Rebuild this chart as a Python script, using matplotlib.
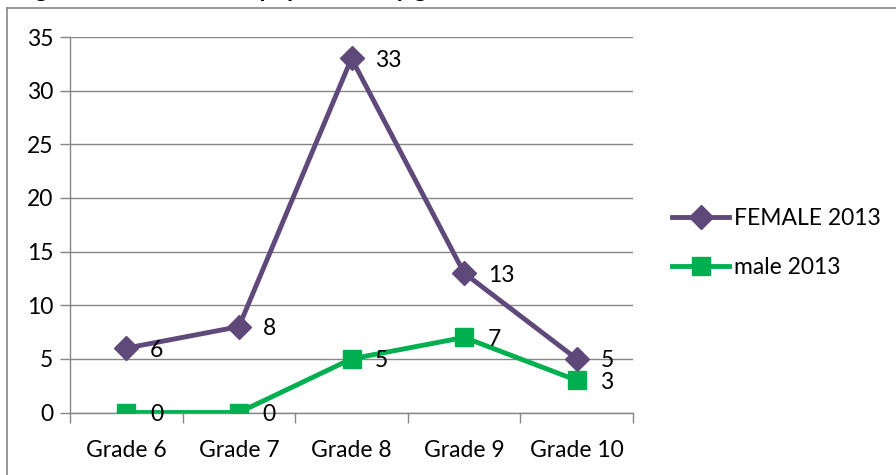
import matplotlib.pyplot as plt
from matplotlib.lines import Line2D
import numpy as np

grades = ["Grade 6", "Grade 7", "Grade 8", "Grade 9", "Grade 10"]
female_2013 = [6, 8, 33, 13, 5]
male_2013 = [0, 0, 5, 7, 3]
yticks = [0, 5, 10, 15, 20, 25, 30, 35]

purple = "#5F497A"
green = "#00B050"
gray = "#868686"

plt.rcParams["font.family"] = ["Lato", "DejaVu Sans"]

W, H = 896, 475
fig = plt.figure(figsize=(W / 100, H / 100), dpi=100)
ax = fig.add_axes([70 / W, (H - 412.5) / H, 563 / W, 375.5 / H])

x = np.arange(len(grades))
ax.plot(x, female_2013, color=purple, lw=3.5, marker="D", ms=12, zorder=3,
        label="FEMALE 2013")
ax.plot(x, male_2013, color=green, lw=3.5, marker="s", ms=12.5, zorder=3,
        label="male 2013")

# value labels to the right of each point
for xi, v in zip(x, female_2013):
    ax.annotate(str(v), (xi, v), xytext=(17, -1.5), textcoords="offset points",
                ha="left", va="center", fontsize=16.5, color="black")
for xi, v in zip(x, male_2013):
    ax.annotate(str(v), (xi, v), xytext=(17, -1.5), textcoords="offset points",
                ha="left", va="center", fontsize=16.5, color="black")

ax.set_xlim(-0.5, len(grades) - 0.5)
ax.set_ylim(0, 35)
ax.set_yticks(yticks)
ax.set_xticks(x)
ax.set_xticklabels(grades, fontsize=16.5)
ax.set_xticks(np.arange(-0.5, len(grades)), minor=True)
ax.tick_params(axis="x", which="major", length=0, pad=20)
ax.tick_params(axis="x", which="minor", length=7, color=gray, width=1)
ax.tick_params(axis="y", length=7, color=gray, width=1, labelsize=16.5, pad=5)
ax.grid(axis="y", color=gray, lw=1)
ax.set_axisbelow(True)
for side in ["top", "right"]:
    ax.spines[side].set_visible(False)
for side in ["left", "bottom"]:
    ax.spines[side].set_color(gray)
    ax.spines[side].set_linewidth(1)

fig.legend(loc="center left", bbox_to_anchor=(672 / W, 1 - 243 / H),
           frameon=False, fontsize=16.5, handlelength=2.5, labelspacing=1.25,
           handletextpad=0.2, borderpad=0, borderaxespad=0)

# chart area border (top and left edges in view)
fig.add_artist(Line2D([7 / W, 1], [1 - 8 / H, 1 - 8 / H], color=gray, lw=1.2))
fig.add_artist(Line2D([7 / W, 7 / W], [0, 1 - 8 / H], color=gray, lw=1.2))

# caption sits above the chart, mostly cut off by the page edge
fig.text(15 / W, 1 + 3 / H, "Figure 2: Total learner population by grade",
         fontsize=17.5, fontweight="bold", va="baseline", ha="left")

fig.savefig("out.png", dpi=100, facecolor="white")
